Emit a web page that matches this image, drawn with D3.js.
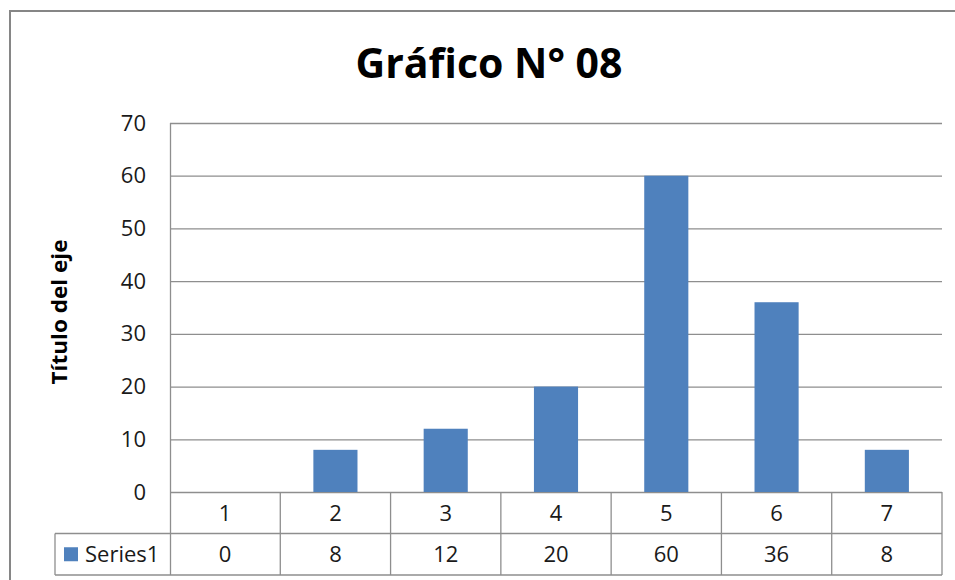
<!DOCTYPE html>
<html>
<head>
<meta charset="utf-8">
<script src="https://cdn.jsdelivr.net/npm/d3@7"></script>
<style>
  html, body { margin: 0; padding: 0; background: #fff; }
  svg { display: block; }
  text { font-family: "Open Sans", "Noto Sans", sans-serif; fill: #1a1a1a; }
</style>
</head>
<body>
<svg id="chart" width="955" height="580"></svg>
<script>
// Chart data
const categories = ["1", "2", "3", "4", "5", "6", "7"];
const seriesName = "Series1";
const seriesValues = [0, 8, 12, 20, 60, 36, 8];
const yTicks = [0, 10, 20, 30, 40, 50, 60, 70];
const chartTitle = "Gráfico N° 08";
const yAxisTitle = "Título del eje";

const svg = d3.select("#chart");
const W = 955, H = 580;

// Plot area geometry
const plot = { left: 170, right: 942, top: 123, bottom: 492 };
const table = { rowH: 41.5, legendLeft: 55 };

const barColor = "#4f81bd";
const gridColor = "#8e8e8e";

// Outer chart frame (runs past the right and bottom edges)
svg.append("rect")
  .attr("x", 10).attr("y", 11)
  .attr("width", W + 20).attr("height", H + 20)
  .attr("fill", "#fff")
  .attr("stroke", "#868686")
  .attr("stroke-width", 2);

// Scales
const xCells = d3.scaleBand().domain(categories).range([plot.left, plot.right]).padding(0);
const xBars = d3.scaleBand().domain(categories).range([plot.left, plot.right])
  .paddingInner(0.6).paddingOuter(0.3);
const y = d3.scaleLinear().domain([0, 70]).range([plot.bottom, plot.top]);

// Horizontal gridlines
svg.append("g")
  .selectAll("line")
  .data(yTicks)
  .join("line")
  .attr("x1", plot.left).attr("x2", plot.right)
  .attr("y1", d => y(d) + 0.5).attr("y2", d => y(d) + 0.5)
  .attr("stroke", gridColor).attr("stroke-width", 1.3);

// Y axis labels
const yAxis = d3.axisLeft(y).tickValues(yTicks).tickSize(0).tickPadding(24);
const yg = svg.append("g").attr("transform", `translate(${plot.left},0)`).call(yAxis);
yg.select(".domain").remove();
yg.selectAll("text")
  .attr("font-family", "\"Open Sans\", \"Noto Sans\", sans-serif")
  .attr("font-size", 22)
  .attr("fill", "#1a1a1a");

// Vertical axis line
svg.append("line")
  .attr("x1", plot.left + 0.5).attr("x2", plot.left + 0.5)
  .attr("y1", plot.top).attr("y2", plot.bottom + 2 * table.rowH)
  .attr("stroke", gridColor).attr("stroke-width", 1.3);

// Bars
svg.append("g")
  .selectAll("rect")
  .data(seriesValues)
  .join("rect")
  .attr("x", (d, i) => xBars(categories[i]))
  .attr("width", xBars.bandwidth())
  .attr("y", d => y(d))
  .attr("height", d => y(0) - y(d))
  .attr("fill", barColor);

// Data table below the plot
const row1Top = plot.bottom, row2Top = plot.bottom + table.rowH, tableBottom = plot.bottom + 2 * table.rowH;
const tg = svg.append("g").attr("stroke", gridColor).attr("stroke-width", 1.3);

// Horizontal table rules
tg.append("line").attr("x1", table.legendLeft).attr("x2", plot.right)
  .attr("y1", row2Top).attr("y2", row2Top);
tg.append("line").attr("x1", table.legendLeft).attr("x2", plot.right)
  .attr("y1", tableBottom).attr("y2", tableBottom);

// Vertical table rules between categories
tg.selectAll("line.sep")
  .data(categories)
  .join("line")
  .attr("class", "sep")
  .attr("x1", d => xCells(d) + xCells.bandwidth())
  .attr("x2", d => xCells(d) + xCells.bandwidth())
  .attr("y1", row1Top).attr("y2", tableBottom);

// Legend cell left edge
tg.append("line").attr("x1", table.legendLeft).attr("x2", table.legendLeft)
  .attr("y1", row2Top).attr("y2", tableBottom);

// Category labels
svg.append("g")
  .selectAll("text")
  .data(categories)
  .join("text")
  .attr("x", d => xCells(d) + xCells.bandwidth() / 2)
  .attr("y", (row1Top + row2Top) / 2)
  .attr("dy", "0.36em")
  .attr("text-anchor", "middle")
  .attr("font-size", 22)
  .text(d => d);

// Value labels
svg.append("g")
  .selectAll("text")
  .data(seriesValues)
  .join("text")
  .attr("x", (d, i) => xCells(categories[i]) + xCells.bandwidth() / 2)
  .attr("y", (row2Top + tableBottom) / 2)
  .attr("dy", "0.36em")
  .attr("text-anchor", "middle")
  .attr("font-size", 22)
  .text(d => d);

// Legend key and series name
svg.append("rect")
  .attr("x", 64).attr("y", (row2Top + tableBottom) / 2 - 7)
  .attr("width", 14).attr("height", 14)
  .attr("fill", barColor);
svg.append("text")
  .attr("x", 85)
  .attr("y", (row2Top + tableBottom) / 2)
  .attr("dy", "0.36em")
  .attr("font-size", 22)
  .text(seriesName);

// Chart title
svg.append("text")
  .attr("x", 489).attr("y", 78)
  .attr("text-anchor", "middle")
  .attr("font-size", 41)
  .attr("font-weight", "bold")
  .style("fill", "#000")
  .text(chartTitle);

// Vertical axis title
svg.append("text")
  .attr("transform", "translate(67,312) rotate(-90)")
  .attr("text-anchor", "middle")
  .attr("font-size", 21)
  .attr("font-weight", "bold")
  .attr("textLength", 145)
  .attr("lengthAdjust", "spacingAndGlyphs")
  .style("fill", "#000")
  .text(yAxisTitle);
</script>
</body>
</html>
